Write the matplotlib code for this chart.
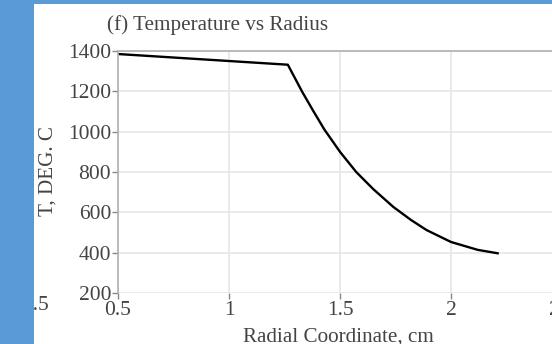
import matplotlib
matplotlib.use("Agg")
import matplotlib.pyplot as plt
from matplotlib.patches import Rectangle

# data
radius = [0.50, 1.265, 1.33, 1.38, 1.43, 1.50, 1.573, 1.65, 1.74, 1.82, 1.89, 2.00, 2.12, 2.21]
temperature = [1385, 1332, 1197, 1102, 1010, 900, 800, 715, 627, 562, 512, 453, 414, 397]
x_ticks = [0.5, 1, 1.5, 2, 2.5]
x_tick_labels = ["0.5", "1", "1.5", "2", "2.5"]
y_ticks = [200, 400, 600, 800, 1000, 1200, 1400]

W, H = 552, 344
TXT = "#444444"
plt.rcParams["font.family"] = ["Liberation Serif", "DejaVu Serif"]

fig = plt.figure(figsize=(W / 100, H / 100), dpi=100)
fig.patch.set_facecolor("white")

# axes run past the right edge of the picture (cropped screenshot)
px_per_unit = 222.0
left_px, top_px, bottom_px = 118, 51, 293
xmax = 2.75
ax = fig.add_axes([left_px / W, (H - bottom_px) / H,
                   (xmax - 0.5) * px_per_unit / W, (bottom_px - top_px) / H])
ax.plot(radius, temperature, color="black", lw=1.7, solid_joinstyle="round")

ax.set_xlim(0.5, xmax)
ax.set_ylim(200, 1400)
ax.set_xticks(x_ticks)
ax.set_xticklabels(x_tick_labels)
ax.set_yticks(y_ticks)
ax.grid(True, color="#e6e6e6", lw=1.2)
ax.set_axisbelow(True)
for side in ["right", "bottom"]:
    ax.spines[side].set_visible(False)
for side in ["left", "top"]:
    ax.spines[side].set_color("#b0b0b0")
    ax.spines[side].set_linewidth(1.2)
ax.tick_params(axis="both", colors="#888888", labelcolor=TXT, labelsize=15.5,
               length=4, width=1)
ax.tick_params(axis="x", pad=2)
ax.tick_params(axis="y", pad=1)

fig.text(218 / W, 1 - 25 / H, "(f) Temperature vs Radius", ha="center", va="center",
         fontsize=15.2, color=TXT)
fig.text(48 / W, 1 - 171 / H, "T, DEG. C", rotation=90, ha="center", va="center",
         fontsize=15.2, color=TXT)
fig.text(338 / W, 1 - 337 / H, "Radial Coordinate, cm", ha="center", va="center",
         fontsize=15.2, color=TXT)

# fragment of the neighbouring panel's tick label
fig.text(48.5 / W, 1 - 305 / H, "2.5", ha="right", va="center", fontsize=15.5, color=TXT)

# blue frame of the screenshot
blue = "#5b9bd5"
fig.add_artist(Rectangle((0, 0), 34 / W, 1, transform=fig.transFigure,
                         facecolor=blue, edgecolor="none", zorder=10))
fig.add_artist(Rectangle((0, 1 - 4 / H), 1, 4 / H, transform=fig.transFigure,
                         facecolor=blue, edgecolor="none", zorder=10))

fig.savefig("out.png", dpi=100)
